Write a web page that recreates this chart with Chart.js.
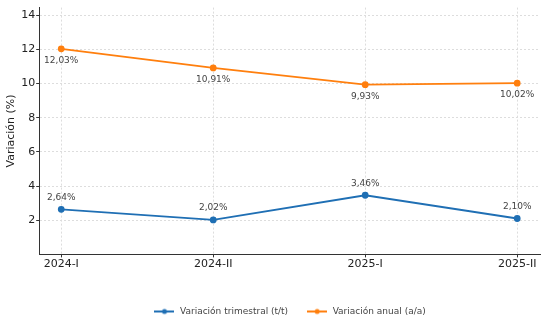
<!DOCTYPE html>
<html>
<head>
<meta charset="utf-8">
<script src="https://cdn.jsdelivr.net/npm/chart.js@4/dist/chart.umd.min.js"></script>
<style>
  html, body { margin: 0; padding: 0; background: #fff; }
  #wrap { width: 547px; height: 326px; }
</style>
</head>
<body>
<div id="wrap"><canvas id="chart"></canvas></div>
<script>
const categories = ['2024-I', '2024-II', '2025-I', '2025-II'];
const trimestral = [2.64, 2.02, 3.46, 2.10];
const anual = [12.03, 10.91, 9.93, 10.02];
const yTicks = [2, 4, 6, 8, 10, 12, 14];

const BLUE = '#1f6fb4';
const ORANGE = '#ff7f0e';

// legend symbol: short line with a dot in the middle
function legendIcon(color) {
    const c = document.createElement('canvas');
    c.width = 20; c.height = 8;
    const g = c.getContext('2d');
    g.strokeStyle = color;
    g.lineWidth = 2;
    g.beginPath(); g.moveTo(0, 4); g.lineTo(20, 4); g.stroke();
    g.fillStyle = color;
    g.beginPath(); g.arc(10, 4, 2.5, 0, Math.PI * 2); g.fill();
    return c;
}

const fmt = v => v.toFixed(2).replace('.', ',') + '%';

// value labels: above for the quarterly series, below for the annual one
const valueLabels = {
    id: 'valueLabels',
    afterDatasetsDraw(chart) {
        const ctx = chart.ctx;
        ctx.save();
        ctx.font = '9px "DejaVu Sans"';
        ctx.fillStyle = '#444';
        ctx.textAlign = 'center';
        ctx.textBaseline = 'middle';
        chart.data.datasets.forEach((ds, i) => {
            const meta = chart.getDatasetMeta(i);
            meta.data.forEach((pt, j) => {
                const dy = ds.labelBelow ? 12 : -12;
                ctx.fillText(fmt(ds.data[j].y), pt.x, pt.y + dy);
            });
        });
        ctx.restore();
    }
};

// center the legend under the plot area instead of the whole canvas
const centerLegend = {
    id: 'centerLegend',
    afterLayout(chart) {
        const l = chart.legend;
        const a = chart.chartArea;
        const shift = (a.left + a.right) / 2 - (l.left + l.right) / 2;
        l.left += shift;
        l.right += shift;
    }
};

const toPoints = arr => arr.map((v, i) => ({ x: i, y: v }));

new Chart(document.getElementById('chart'), {
    type: 'line',
    data: {
        datasets: [{
            label: 'Variación trimestral (t/t)',
            data: toPoints(trimestral),
            borderColor: BLUE,
            backgroundColor: BLUE,
            borderWidth: 1.8,
            pointRadius: 2.5,
            pointStyle: 'circle',
            labelBelow: false
        }, {
            label: 'Variación anual (a/a)',
            data: toPoints(anual),
            borderColor: ORANGE,
            backgroundColor: ORANGE,
            borderWidth: 1.8,
            pointRadius: 2.5,
            pointStyle: 'circle',
            labelBelow: true
        }]
    },
    options: {
        responsive: true,
        maintainAspectRatio: false,
        animation: false,
        layout: { padding: { top: 4, right: 7, left: 3, bottom: 0 } },
        scales: {
            x: {
                type: 'linear',
                min: -0.145,
                max: 3.15,
                afterBuildTicks: scale => { scale.ticks = categories.map((c, i) => ({ value: i })); },
                ticks: {
                    callback: v => categories[v],
                    color: '#222',
                    font: { family: 'DejaVu Sans', size: 11 },
                    padding: 0
                },
                grid: {
                    color: '#dddddd',
                    tickColor: '#333',
                    tickLength: 3
                },
                border: { color: '#333', width: 1, dash: [2, 2] },
                title: {
                    display: true,
                    text: ' ',
                    font: { size: 12 },
                    padding: { top: 4, bottom: 0 }
                }
            },
            y: {
                min: 0,
                max: 14.44,
                afterBuildTicks: scale => { scale.ticks = yTicks.map(v => ({ value: v })); },
                ticks: {
                    color: '#222',
                    font: { family: 'DejaVu Sans', size: 11 },
                    padding: 1
                },
                grid: {
                    color: '#dddddd',
                    tickColor: '#333',
                    tickLength: 3
                },
                border: { color: '#333', width: 1, dash: [2, 2] },
                title: {
                    display: true,
                    text: 'Variación (%)',
                    color: '#222',
                    font: { family: 'DejaVu Sans', size: 11 },
                    padding: { top: 2, bottom: 2 }
                }
            }
        },
        plugins: {
            legend: {
                position: 'bottom',
                labels: {
                    usePointStyle: true,
                    pointStyleWidth: 22,
                    color: '#444',
                    font: { family: 'DejaVu Sans', size: 9 },
                    padding: 18,
                    generateLabels: chart => chart.data.datasets.map((ds, i) => ({
                        text: ds.label,
                        pointStyle: legendIcon(ds.borderColor),
                        fontColor: '#444',
                        datasetIndex: i,
                        hidden: false
                    }))
                }
            },
            tooltip: { enabled: false }
        }
    },
    plugins: [valueLabels, centerLegend]
});
</script>
</body>
</html>
